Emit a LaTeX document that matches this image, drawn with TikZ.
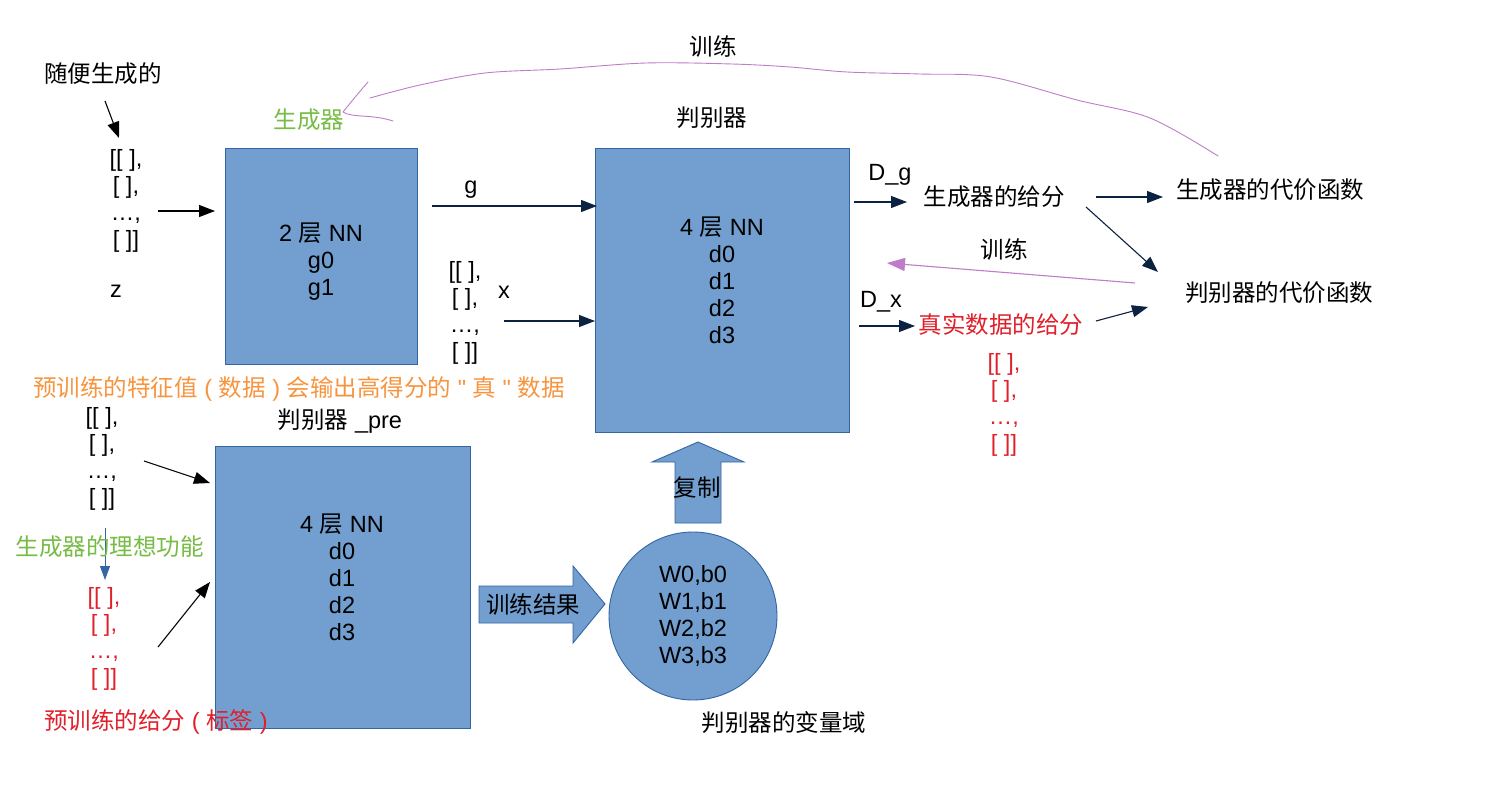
\documentclass[tikz,border=0pt]{standalone}
\usepackage{fontspec}
\setmainfont{Liberation Sans}
\newfontfamily\cjk{Noto Sans CJK SC}
\newfontfamily\plainsans{Liberation Sans}
\usetikzlibrary{arrows.meta}
\newcommand\zh[1]{{\cjk #1}}
\newcommand\dq{{\plainsans "}}

\definecolor{boxfill}{HTML}{729FCF}
\definecolor{boxline}{HTML}{3465A4}
\definecolor{navy}{HTML}{0B2340}
\definecolor{grn}{HTML}{77BC45}
\definecolor{org}{HTML}{F7953F}
\definecolor{rd}{HTML}{E0202A}
\definecolor{purp}{HTML}{BF7CC8}

\begin{document}
\begin{tikzpicture}[x=1pt,y=-1pt,
  txt/.style={inner sep=0pt, font=\fontsize{23.5}{27}\selectfont, align=center},
  nnbox/.style={draw=boxline, fill=boxfill, line width=0.9pt, inner sep=0pt, anchor=north west},
  blockarrow/.style={draw=boxline, fill=boxfill, line width=0.9pt, line join=miter},
  arr/.style={line width=1.1pt, -{Triangle[length=16pt,width=12pt]}},
  blackarr/.style={arr, black},
  navyarr/.style={arr, navy},
  trainarr/.style={line width=1.1pt, purp, -{Triangle[length=18pt,width=13pt]}},
  trainline/.style={line width=0.9pt, purp, line cap=round, line join=round}]

\useasboundingbox (0,0) rectangle (1509,794);
\fill[white] (0,0) rectangle (1509,794);

% ---------- generator ----------
\node[txt] (rand) at (103,74) {\zh{随便生成的}};
\node[txt] (zlist) at (126,201) {[[ ],\\{}[ ],\\…,\\{}[ ]]};
\node[txt] (zlab) at (116,291) {z};
\node[txt, text=grn] (genname) at (309,120) {\zh{生成器}};
\node[nnbox, minimum width=192pt, minimum height=216pt] (gen) at (225,148) {};
\node[txt] (gentext) at (321,262) {2 \zh{层} NN\\g0\\g1};

\coordinate (randA) at (105,101);
\coordinate (randB) at (119,138);
\draw[blackarr] (randA) -- (randB);
\coordinate (zA) at (158,211);
\coordinate (zB) at (215,211);
\draw[blackarr] (zA) -- (zB);

% ---------- discriminator ----------
\node[txt] (toptrain) at (713,47) {\zh{训练}};
\node[txt] (disname) at (712,118) {\zh{判别器}};
\node[nnbox, minimum width=254pt, minimum height=284pt] (dis) at (595,148) {};
\node[txt] (distext) at (722,280) {4 \zh{层} NN\\d0\\d1\\d2\\d3};

\node[txt] (glab) at (471,190) {g};
\coordinate (gA) at (432,206);
\coordinate (gB) at (597,206);
\draw[navyarr] (gA) -- (gB);

\node[txt] (xlist) at (465,313) {[[ ],\\{}[ ],\\…,\\{}[ ]]};
\node[txt] (xlab) at (504,292) {x};
\coordinate (xA) at (504,321);
\coordinate (xB) at (595,321);
\draw[navyarr] (xA) -- (xB);

% ---------- scores and costs ----------
\node[txt] (dglab) at (890,175) {D\_g};
\node[txt] (gscore) at (994,197) {\zh{生成器的给分}};
\node[txt] (gcost) at (1270,190) {\zh{生成器的代价函数}};
\node[txt] (midtrain) at (1004,249) {\zh{训练}};
\node[txt] (dcost) at (1279,293) {\zh{判别器的代价函数}};
\node[txt] (dxlab) at (881,302) {D\_x};
\node[txt, text=rd] (xscore) at (1001,325) {\zh{真实数据的给分}};
\node[txt, text=rd] (rlist) at (1004,405) {[[ ],\\{}[ ],\\…,\\{}[ ]]};

\coordinate (dgA) at (854,202);
\coordinate (dgB) at (907,202);
\draw[navyarr] (dgA) -- (dgB);
\coordinate (gcA) at (1096,197);
\coordinate (gcB) at (1163,197);
\draw[navyarr] (gcA) -- (gcB);
\coordinate (dcA) at (1086,207);
\coordinate (dcB) at (1158,272);
\draw[navyarr] (dcA) -- (dcB);
\coordinate (dxA) at (859,326);
\coordinate (dxB) at (915,326);
\draw[navyarr] (dxA) -- (dxB);
\coordinate (xsA) at (1096,321);
\coordinate (xsB) at (1148,307);
\draw[navyarr] (xsA) -- (xsB);

% training feedback to the discriminator
\coordinate (trA) at (1135,283);
\coordinate (trB) at (887,263);
\draw[trainarr] (trA) -- (trB);

% training feedback to the generator (hand-drawn stroke)
\draw[trainline] plot[smooth, tension=0.55] coordinates
  {(1218,156) (1150,118) (1077,100) (991,77) (920,74) (847,72) (790,67) (732,64) (646,63) (560,69) (485,73) (420,85) (370,98)};
\draw[trainline] (368,82) .. controls (356,96) .. (343,112)
  .. controls (352,118) and (372,114) .. (393,121);

% ---------- pre-training ----------
\node[txt, text=org] (prefeat) at (299,389)
  {\zh{预训练的特征值} ( \zh{数据} ) \zh{会输出高得分的} \dq{} \zh{真} \dq{} \zh{数据}};
\node[txt] (plist) at (102,459) {[[ ],\\{}[ ],\\…,\\{}[ ]]};
\node[txt] (prename) at (340,421) {\zh{判别器} \_pre};
\node[nnbox, minimum width=255pt, minimum height=282pt] (pre) at (215,446) {};
\node[txt] (pretext) at (342,577) {4 \zh{层} NN\\d0\\d1\\d2\\d3};

\coordinate (idA) at (105,528);
\coordinate (idB) at (105,580);
\draw[line width=1pt, boxline, -{Triangle[length=14pt,width=10pt]}] (idA) -- (idB);
\node[txt, text=grn] (ideal) at (110,547) {\zh{生成器的理想功能}};

\node[txt, text=rd] (rlist2) at (104,639) {[[ ],\\{}[ ],\\…,\\{}[ ]]};
\node[txt, text=rd] (prelab) at (156,722) {\zh{预训练的给分} ( \zh{标签} )};

\coordinate (pfA) at (144,461);
\coordinate (pfB) at (210,483);
\draw[blackarr] (pfA) -- (pfB);
\coordinate (plA) at (158,647);
\coordinate (plB) at (210,582);
\draw[blackarr] (plA) -- (plB);

% ---------- variable scope ----------
\draw[blockarrow] (479,586) -- (573,586) -- (573,566) -- (605,604) -- (573,643)
  -- (573,623) -- (479,623) -- cycle;
\node[txt] (result) at (533,605) {\zh{训练结果}};

\node[circle, draw=boxline, fill=boxfill, line width=0.9pt, minimum size=168pt, inner sep=0pt] (vars) at (693,616) {};
\node[txt] (varstext) at (693,616) {W0,b0\\W1,b1\\W2,b2\\W3,b3};
\node[txt] (varsname) at (784,723) {\zh{判别器的变量域}};

\draw[blockarrow] (675,523) -- (675,462) -- (652,462) -- (698,442) -- (744,462)
  -- (721,462) -- (721,523) -- cycle;
\node[txt] (copy) at (697,488) {\zh{复制}};

\end{tikzpicture}
\end{document}
